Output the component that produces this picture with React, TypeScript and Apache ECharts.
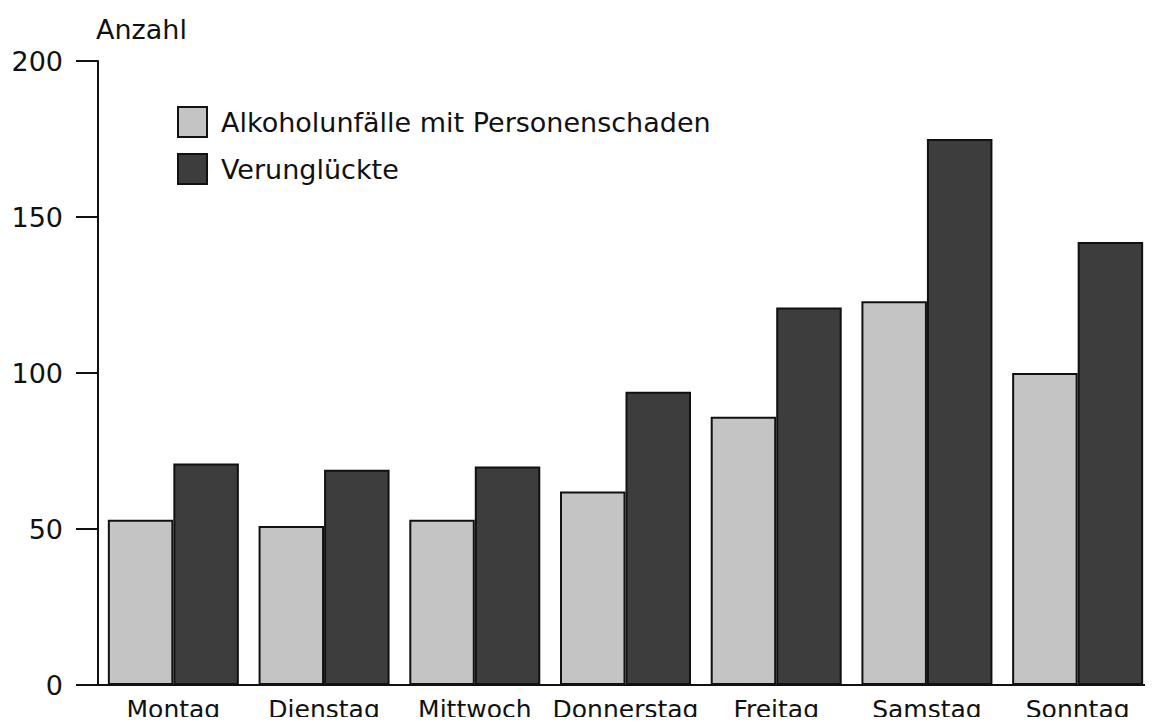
import React, { useEffect, useRef } from "react";
import * as echarts from "echarts";

const days = ["Montag", "Dienstag", "Mittwoch", "Donnerstag", "Freitag", "Samstag", "Sonntag"];
const alkoholunfaelle = [53, 51, 53, 62, 86, 123, 100];
const verunglueckte = [71, 69, 70, 94, 121, 175, 142];
const yTicks = { min: 0, max: 200, interval: 50 };
const seriesNames = ["Alkoholunfälle mit Personenschaden", "Verunglückte"];

const FONT = "DejaVu Sans";

export default function App() {
  const ref = useRef<HTMLDivElement>(null);
  useEffect(() => {
    if (!ref.current) return;
    const chart = echarts.init(ref.current, undefined, { renderer: "svg" });
    chart.setOption({
      animation: false,
      backgroundColor: "#ffffff",
      textStyle: { fontFamily: FONT, color: "#111" },
      legend: {
        orient: "vertical",
        left: 172,
        top: 101,
        itemWidth: 29,
        itemHeight: 30,
        itemGap: 15,
        icon: "rect",
        textStyle: { fontFamily: FONT, fontSize: 27, color: "#111", padding: [0, 0, 0, 9] },
        data: seriesNames,
      },
      grid: { left: 98, top: 61, bottom: 40, width: 1065, containLabel: false },
      xAxis: {
        type: "category",
        data: days,
        axisLine: { show: true, lineStyle: { color: "#111", width: 2 } },
        axisTick: { show: false },
        axisLabel: { fontFamily: FONT, fontSize: 25, color: "#111", margin: 12, interval: 0 },
      },
      yAxis: {
        type: "value",
        min: yTicks.min,
        max: yTicks.max,
        interval: yTicks.interval,
        name: "Anzahl",
        nameLocation: "end",
        nameGap: 32,
        nameTextStyle: { fontFamily: FONT, fontSize: 27, color: "#111", align: "left", verticalAlign: "middle", padding: [0, 0, 0, -2] },
        axisLine: { show: true, lineStyle: { color: "#111", width: 2 } },
        axisTick: { show: true, length: 22, inside: false, lineStyle: { color: "#111", width: 2 } },
        axisLabel: { fontFamily: FONT, fontSize: 27, color: "#111", margin: 35 },
        splitLine: { show: false },
      },
      series: [
        {
          name: seriesNames[0],
          type: "bar",
          data: alkoholunfaelle,
          barWidth: 65.5,
          barGap: "0%",
          itemStyle: { color: "#c4c4c4", borderColor: "#111", borderWidth: 2 },
        },
        {
          name: seriesNames[1],
          type: "bar",
          data: verunglueckte,
          barWidth: 65.5,
          barGap: "0%",
          itemStyle: { color: "#3d3d3d", borderColor: "#111", borderWidth: 2 },
        },
      ],
    });
    return () => chart.dispose();
  }, []);
  return <div ref={ref} style={{ width: 1153, height: 725, margin: -8 }} />;
}
